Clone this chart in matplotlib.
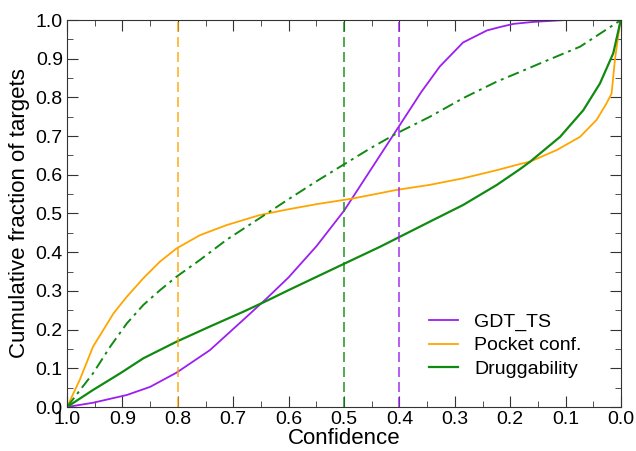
import matplotlib
matplotlib.use("Agg")
import matplotlib.pyplot as plt
from matplotlib.ticker import MultipleLocator

plt.rcParams["font.family"] = ["Liberation Sans", "DejaVu Sans"]

# curves (confidence threshold -> cumulative fraction)
gdt_x = [1.0, 0.953, 0.892, 0.85, 0.802, 0.742, 0.682, 0.64, 0.6, 0.55,
         0.5, 0.45, 0.4, 0.36, 0.327, 0.285, 0.242, 0.218, 0.194, 0.159, 0.1, 0.0]
gdt_y = [0.0, 0.011, 0.031, 0.052, 0.089, 0.147, 0.225, 0.28, 0.335, 0.415,
         0.507, 0.617, 0.727, 0.815, 0.88, 0.942, 0.973, 0.982, 0.99, 0.995, 1.0, 1.0]

pocket_x = [1.0, 0.977, 0.953, 0.916, 0.892, 0.862, 0.832, 0.802, 0.76, 0.712, 0.652,
            0.6, 0.55, 0.483, 0.405, 0.345, 0.285, 0.224, 0.182, 0.164, 0.116,
            0.074, 0.044, 0.026, 0.017, 0.011, 0.002, 0.0]
pocket_y = [0.0, 0.07, 0.156, 0.242, 0.285, 0.333, 0.376, 0.41, 0.444, 0.47, 0.496,
            0.511, 0.524, 0.539, 0.561, 0.574, 0.591, 0.612, 0.628, 0.634, 0.664,
            0.698, 0.742, 0.785, 0.81, 0.897, 0.99, 1.0]

drug_x = [1.0, 0.953, 0.904, 0.862, 0.802, 0.742, 0.682, 0.64, 0.6, 0.55,
          0.5, 0.435, 0.399, 0.345, 0.285, 0.224, 0.182, 0.164, 0.11, 0.068, 0.038,
          0.014, 0.002, 0.0]
drug_y = [0.0, 0.044, 0.087, 0.126, 0.169, 0.208, 0.246, 0.274, 0.302, 0.336,
          0.37, 0.414, 0.44, 0.479, 0.522, 0.574, 0.615, 0.634, 0.698, 0.767, 0.836,
          0.914, 0.99, 1.0]

drug2_x = [1.0, 0.953, 0.922, 0.892, 0.862, 0.832, 0.802, 0.76, 0.712, 0.65, 0.6,
           0.55, 0.5, 0.453, 0.405, 0.345, 0.285, 0.224, 0.182, 0.146, 0.074, 0.0]
drug2_y = [0.0, 0.087, 0.156, 0.216, 0.264, 0.302, 0.337, 0.38, 0.432, 0.49, 0.537,
           0.583, 0.627, 0.668, 0.707, 0.75, 0.798, 0.841, 0.866, 0.888, 0.931, 1.0]

cutoffs = [0.8, 0.5, 0.4]

PURPLE, ORANGE, GREEN = "#9b1ff0", "#ffa500", "#108a10"

fig = plt.figure(figsize=(6.36, 4.51), dpi=100)
ax = fig.add_axes([67 / 636, 44 / 451, 554 / 636, 387 / 451])

l1, = ax.plot(gdt_x, gdt_y, color=PURPLE, lw=1.3)
l2, = ax.plot(pocket_x, pocket_y, color=ORANGE, lw=1.3)
l3, = ax.plot(drug_x, drug_y, color=GREEN, lw=1.6)
l4, = ax.plot(drug2_x, drug2_y, color=GREEN, lw=1.4, ls=(0, (6, 2.5, 1.5, 2.5)))

for c, col in zip(cutoffs, [ORANGE, GREEN, PURPLE]):
    ax.plot([c, c], [0, 1], color=col, lw=1.2, ls=(0, (6, 3)), alpha=0.85)

ax.set_xlim(1.0, 0.0)
ax.set_ylim(0.0, 1.0)
ax.xaxis.set_major_locator(MultipleLocator(0.1))
ax.xaxis.set_minor_locator(MultipleLocator(0.05))
ax.yaxis.set_major_locator(MultipleLocator(0.1))
ax.yaxis.set_minor_locator(MultipleLocator(0.05))
ax.xaxis.set_major_formatter(lambda v, p: f"{v:.1f}")
ax.yaxis.set_major_formatter(lambda v, p: f"{v:.1f}")
ax.tick_params(which="both", direction="in", top=True, right=True, color="#333333")
ax.tick_params(which="major", length=8, labelsize=14, pad=3)
ax.tick_params(which="minor", length=4)
for s in ax.spines.values():
    s.set_color("#333333")

ax.set_xlabel("Confidence", fontsize=16, labelpad=0)
ax.set_ylabel("Cumulative fraction of targets", fontsize=16, labelpad=4)

ax.legend([l1, l2, (l3, l4)], ["GDT_TS", "Pocket conf.", "Druggability"],
          loc="lower right", bbox_to_anchor=(0.96, 0.03), frameon=False,
          fontsize=14, handlelength=1.5, labelspacing=0.3, handletextpad=0.8)

fig.savefig("out.png", dpi=100)
